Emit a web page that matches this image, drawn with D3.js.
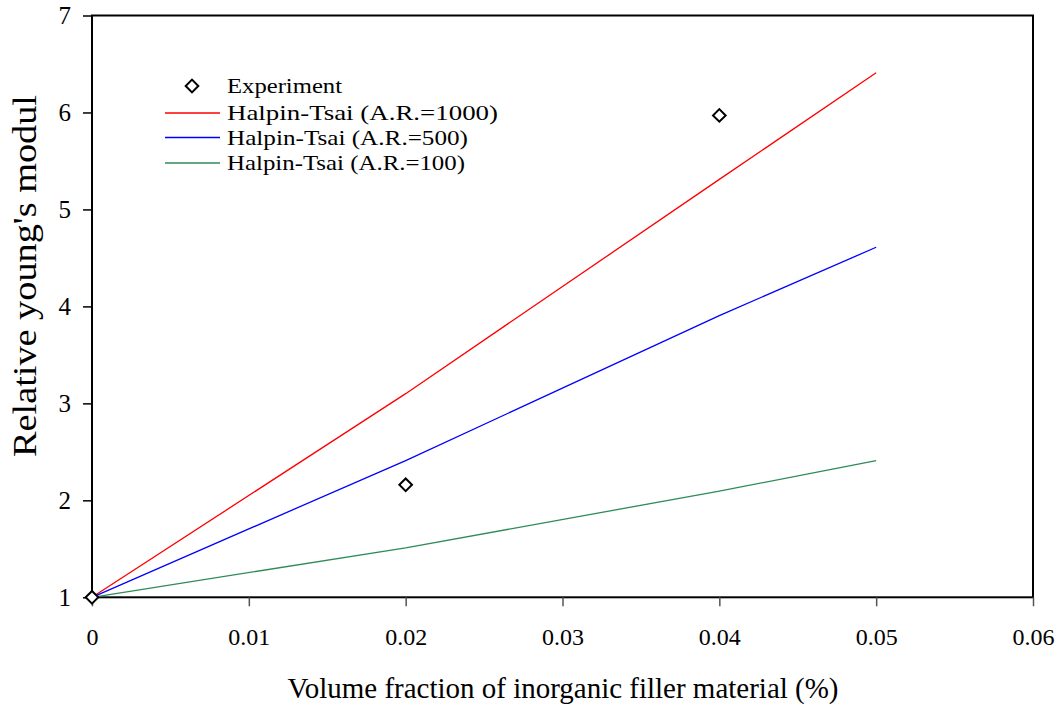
<!DOCTYPE html>
<html>
<head>
<meta charset="utf-8">
<script src="https://cdn.jsdelivr.net/npm/d3@7"></script>
<style>
    body { margin: 0; background: #fff; }
    text { font-family: "Liberation Serif", "Times New Roman", serif; fill: #000; }
</style>
</head>
<body>
<svg id="chart" width="1063" height="711"></svg>
<script>
// data
var xFrac = [0, 0.02, 0.04, 0.05];
var ar1000 = [1, 3.10, 5.31, 6.41];
var ar500 = [1, 2.41, 3.905, 4.61];
var ar100 = [1, 1.51, 2.095, 2.41];
var expX = [0, 0.02, 0.04];
var expY = [1, 2.16, 5.97];
var xTicks = [0, 0.01, 0.02, 0.03, 0.04, 0.05, 0.06];
var yTicks = [1, 2, 3, 4, 5, 6, 7];
var seriesNames = ["Halpin-Tsai (A.R.=1000)", "Halpin-Tsai (A.R.=500)", "Halpin-Tsai (A.R.=100)"];
var seriesColors = ["#ff0000", "#0000ff", "#2e8b57"];

var svg = d3.select("#chart");
var pLeft = 92, pRight = 1033, pTop = 15.5, pBottom = 597.3;

var x = d3.scaleLinear().domain([0, 0.06]).range([pLeft, pRight]);
var y = d3.scaleLinear().domain([1, 7]).range([pBottom, pTop]);

// frame
svg.append("rect")
    .attr("x", pLeft).attr("y", pTop)
    .attr("width", pRight - pLeft).attr("height", pBottom - pTop)
    .attr("fill", "none").attr("stroke", "#000").attr("stroke-width", 2);

// axes
var xAxis = svg.append("g")
    .attr("transform", "translate(0," + pBottom + ")")
    .call(d3.axisBottom(x).tickValues(xTicks).tickSize(9).tickPadding(22)
        .tickFormat(function (d) { return d === 0 ? "0" : d3.format(".2f")(d); }));
xAxis.select(".domain").remove();
xAxis.selectAll("line").attr("stroke", "#555").attr("stroke-width", 1.5);
xAxis.selectAll("text").attr("font-size", 24);

var yAxis = svg.append("g")
    .attr("transform", "translate(" + pLeft + ",0)")
    .call(d3.axisLeft(y).tickValues(yTicks).tickSize(9).tickPadding(12).tickFormat(d3.format("d")));
yAxis.select(".domain").remove();
yAxis.selectAll("line").attr("stroke", "#000").attr("stroke-width", 1.5);
yAxis.selectAll("text").attr("font-size", 25);

// model lines
var line = d3.line()
    .x(function (d) { return x(d[0]); })
    .y(function (d) { return y(d[1]); });

[ar1000, ar500, ar100].forEach(function (vals, i) {
    svg.append("path")
        .datum(xFrac.map(function (v, j) { return [v, vals[j]]; }))
        .attr("d", line)
        .attr("fill", "none")
        .attr("stroke", seriesColors[i])
        .attr("stroke-width", 1.3);
});

// experiment markers
var diamond = d3.symbol().type(d3.symbolSquare).size(80);
svg.selectAll(".exp")
    .data(expX.map(function (v, j) { return [v, expY[j]]; }))
    .enter().append("path")
    .attr("class", "exp")
    .attr("d", diamond)
    .attr("transform", function (d) { return "translate(" + x(d[0]) + "," + y(d[1]) + ") rotate(45)"; })
    .attr("fill", "#fff")
    .attr("stroke", "#000")
    .attr("stroke-width", 2);

// legend
var legend = svg.append("g");
legend.append("path")
    .attr("d", diamond)
    .attr("transform", "translate(192,86) rotate(45)")
    .attr("fill", "#fff").attr("stroke", "#000").attr("stroke-width", 2);
legend.append("text")
    .attr("x", 227).attr("y", 93)
    .attr("font-size", 22)
    .attr("textLength", 115).attr("lengthAdjust", "spacingAndGlyphs")
    .text("Experiment");
var rowY = [113, 137.5, 163];
var rowLen = [271, 241, 238];
seriesNames.forEach(function (name, i) {
    legend.append("line")
        .attr("x1", 165).attr("x2", 220)
        .attr("y1", rowY[i]).attr("y2", rowY[i])
        .attr("stroke", seriesColors[i]).attr("stroke-width", 1.3);
    legend.append("text")
        .attr("x", 227).attr("y", rowY[i] + 7)
        .attr("font-size", 22)
        .attr("textLength", rowLen[i]).attr("lengthAdjust", "spacingAndGlyphs")
        .text(name);
});

// axis titles
svg.append("text")
    .attr("x", 563).attr("y", 698)
    .attr("text-anchor", "middle")
    .attr("font-size", 29)
    .attr("textLength", 551).attr("lengthAdjust", "spacingAndGlyphs")
    .text("Volume fraction of inorganic filler material (%)");

svg.append("text")
    .attr("transform", "translate(36,276) rotate(-90)")
    .attr("text-anchor", "middle")
    .attr("font-size", 33)
    .attr("textLength", 362).attr("lengthAdjust", "spacingAndGlyphs")
    .text("Relative young's modul");
</script>
</body>
</html>
